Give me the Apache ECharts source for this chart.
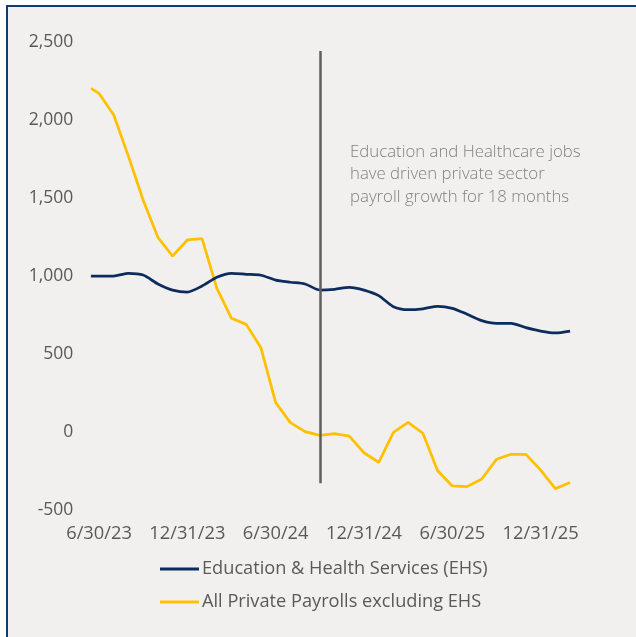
<!DOCTYPE html>
<html>
<head>
<meta charset="utf-8">
<script src="https://cdn.jsdelivr.net/npm/echarts@6/dist/echarts.min.js"></script>
<style>
  html, body { margin: 0; padding: 0; background: #ffffff; }
  #frame { position: absolute; left: 6px; top: 5px; width: 630px; height: 632px; box-sizing: border-box;
           background: #f1f0ef; border-top: 2px solid #123a6e; border-left: 2px solid #123a6e; }
  #chart { position: absolute; left: 0; top: 0; width: 636px; height: 637px; }
</style>
</head>
<body>
<div id="frame"></div>
<div id="chart"></div>
<script>
// Month offsets from 6/30/23 (first observation sits about half a month before)
const xMonths = [-0.55, 0, 1, 2, 3, 4, 5, 6, 7, 8, 9, 10, 11, 12, 13, 14, 15, 16, 17, 18, 19, 20,
                 21, 22, 23, 24, 25, 26, 27, 28, 29, 30, 31, 32];
const ehsValues = [998, 998, 998, 1015, 1004, 947, 908, 895, 934, 990, 1015, 1009, 1003, 972, 958, 947,
                   908, 913, 925, 908, 872, 801, 782, 788, 804, 791, 753, 712, 695, 695, 667, 645, 633, 645];
const otherValues = [2201, 2169, 2030, 1765, 1484, 1246, 1126, 1229, 1237, 921, 727, 688, 538, 186, 58, 0,
                     -24, -13, -28, -135, -196, -4, 60, -10, -250, -348, -352, -303, -177, -145, -145, -246, -365, -325];
const tickMonths = [0, 6, 12, 18, 24, 30];
const tickLabels = ['6/30/23', '12/31/23', '6/30/24', '12/31/24', '6/30/25', '12/31/25'];
const seriesNames = ['Education & Health Services (EHS)', 'All Private Payrolls excluding EHS'];
const markerMonth = 15;
const markerRange = [2440, -330];
const noteText = ['Education and Healthcare jobs', 'have driven private sector', 'payroll growth for 18 months'];

const FONT = 'Open Sans';
const chart = echarts.init(document.getElementById('chart'), null, { renderer: 'canvas' });

const pairs = (ys) => ys.map((v, i) => [xMonths[i], v]);

chart.setOption({
  backgroundColor: 'transparent',
  animation: false,
  textStyle: { fontFamily: FONT },
  grid: { left: 84.3, right: 51.2, top: 41.7, bottom: 127.3, containLabel: false },
  xAxis: {
    type: 'value', min: -1, max: 33,
    splitLine: { show: false }, axisLine: { show: false }, axisTick: { show: false },
    axisLabel: {
      customValues: tickMonths,
      margin: 15.5, fontSize: 18.3, color: '#595959', fontFamily: FONT,
      formatter: (v) => { const i = tickMonths.indexOf(v); return i >= 0 ? tickLabels[i] : ''; }
    }
  },
  yAxis: {
    type: 'value', min: -500, max: 2500, interval: 500,
    splitLine: { show: false }, axisLine: { show: false }, axisTick: { show: false },
    axisLabel: { margin: 11, fontSize: 17.5, color: '#595959', fontFamily: FONT,
      formatter: (v) => v.toLocaleString('en-US') }
  },
  legend: {
    orient: 'vertical', left: 160, top: 559, itemGap: 13, padding: 0,
    icon: 'rect', itemWidth: 39, itemHeight: 3,
    textStyle: { fontSize: 18.2, color: '#595959', fontFamily: FONT, lineHeight: 20, padding: [0, 0, 0, -2] },
    data: seriesNames
  },
  graphic: [{
    type: 'text', left: 350, top: 140.5, silent: true,
    style: { text: noteText.join('\n'), font: '300 16.8px "Open Sans"', lineHeight: 22.5, fill: '#808080' }
  }],
  series: [
    {
      name: seriesNames[0], type: 'line', data: pairs(ehsValues), showSymbol: false, smooth: 0.25,
      lineStyle: { color: '#0c2c5e', width: 2.75 }, itemStyle: { color: '#0c2c5e' }, z: 3
    },
    {
      name: seriesNames[1], type: 'line', data: pairs(otherValues), showSymbol: false,
      lineStyle: { color: '#ffc000', width: 2.75 }, itemStyle: { color: '#ffc000' }, z: 2,
      markLine: {
        silent: true, symbol: 'none', label: { show: false },
        lineStyle: { color: '#5f5f5f', width: 2.5, type: 'solid' },
        data: [[{ coord: [markerMonth, markerRange[0]] }, { coord: [markerMonth, markerRange[1]] }]]
      }
    }
  ]
});
</script>
</body>
</html>
